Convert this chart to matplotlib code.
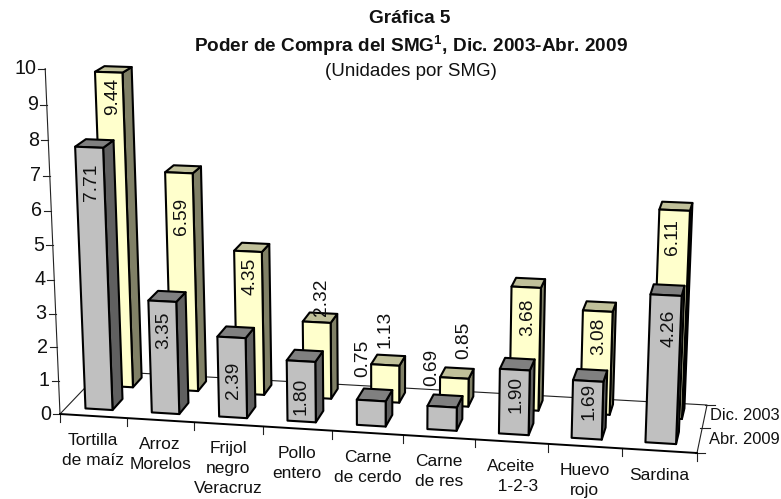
import numpy as np
from matplotlib import pyplot as plt
from matplotlib.patches import Polygon

plt.rcParams['font.family'] = ['Liberation Sans', 'DejaVu Sans']
plt.rcParams['mathtext.fontset'] = 'custom'
plt.rcParams['mathtext.bf'] = 'Liberation Sans:bold'

# Datos
categorias = ['Tortilla\nde maíz', 'Arroz\nMorelos', 'Frijol\nnegro\nVeracruz',
              'Pollo\nentero', 'Carne\nde cerdo', 'Carne\nde res',
              'Aceite\n   1-2-3', 'Huevo\nrojo', 'Sardina']
abr_2009 = [7.71, 3.35, 2.39, 1.80, 0.75, 0.69, 1.90, 1.69, 4.26]
dic_2003 = [9.44, 6.59, 4.35, 2.32, 1.13, 0.85, 3.68, 3.08, 6.11]
series = ['Abr. 2009', 'Dic. 2003']
ticks_y = list(range(11))

# Ajuste a mano de las etiquetas (dx, dy desde la cara frontal)
ajuste_abr = [(2, 35), (1, 29), (2, 43), (0, 35), (-8, -42), (-10, -39), (1, 25), (1, 20), (3, 33)]
ajuste_dic = [(4, 24), (3, 44), (2, 25), (5, -25), (0, -36), (9, -38), (2, 30), (1, 25), (-2, 27)]

# Homografia del piso: (u, d) -> pixeles
origen = [(0, 0), (9, 0), (0, 2), (9, 2)]
destino = [(60, 414), (697, 453), (101, 371), (707, 405)]
A, b = [], []
for (u, d), (x, y) in zip(origen, destino):
    A.append([u, d, 1, 0, 0, 0, -u * x, -d * x])
    A.append([0, 0, 0, u, d, 1, -u * y, -d * y])
    b += [x, y]
H = np.append(np.linalg.solve(np.array(A, float), np.array(b, float)), 1).reshape(3, 3)


def piso(u, d):
    p = H @ np.array([u, d, 1.0])
    return p[0] / p[2], p[1] / p[2]


def punto(u, d, v):
    x0, y0 = piso(u, d)
    escala = (1 + 0.00007 * (x0 - 86)) * (1 - 0.028 * d)
    h = (33 * v + 0.16 * v ** 2) * escala
    return x0 + (x0 - 387) * 0.000131 * h, y0 - h


fig = plt.figure(figsize=(7.81, 4.99), dpi=100)
ax = fig.add_axes([0, 0, 1, 1])
ax.set_xlim(0, 781)
ax.set_ylim(499, 0)
ax.axis('off')

# Lineas del piso y ejes
ax.plot(*zip(piso(0, 0), piso(0, 2), piso(9, 2), piso(9, 0)), color='#222222', lw=0.8, zorder=1)
ax.plot(*zip(punto(0, 0, 0), punto(0, 0, 10)), color='#222222', lw=0.8, zorder=1)
ax.plot(*zip(piso(0, 0), piso(9, 0)), color='black', lw=1.4, zorder=1.5)
for t in ticks_y:
    x, y = punto(0, 0, t)
    ax.plot([x - 7, x], [y, y], color='#222222', lw=0.8, zorder=1)
    ax.text(x - 9, y, str(t), ha='right', va='center', fontsize=14.2, color='#111111')

for i, etiqueta in enumerate(categorias + ['']):
    x, y = piso(i, 0)
    ax.plot([x, x], [y, y + 8], color='#222222', lw=0.8, zorder=1)
    if etiqueta:
        xc, yc = piso(i + 0.5, 0)
        ax.text(xc, yc + 17, etiqueta, ha='center', va='top', fontsize=12.5,
                linespacing=1.42, color='#111111')

for k, nombre in enumerate(series):
    x, y = piso(9, k + 0.5)
    ax.text(780, y - 1, nombre, ha='right', va='center', fontsize=11.9, color='#111111')
for k in range(3):
    x, y = piso(9, k)
    ax.plot([x - 2, x + 8], [y, y], color='#222222', lw=0.8, zorder=1)


def barra(i, d0, d1, valor, colores, z):
    u0, u1 = i + 0.29, i + 0.70
    frente = [punto(u0, d0, 0), punto(u1, d0, 0), punto(u1, d0, valor), punto(u0, d0, valor)]
    lado = [punto(u1, d0, 0), punto(u1, d1, 0), punto(u1, d1, valor), punto(u1, d0, valor)]
    tapa = [punto(u0, d0, valor), punto(u1, d0, valor), punto(u1, d1, valor), punto(u0, d1, valor)]
    for puntos, color in zip((lado, tapa, frente), colores):
        ax.add_patch(Polygon(puntos, closed=True, facecolor=color, edgecolor='black',
                             lw=1.5, joinstyle='round', zorder=z))
    return (frente[2][0] + frente[3][0]) / 2, (frente[2][1] + frente[3][1]) / 2


gris = ('#606060', '#808080', '#C0C0C0')
crema = ('#808066', '#C0C09A', '#FFFFCC')

etiquetas = []
for i, v in enumerate(dic_2003):
    etiquetas.append((barra(i, 1.34, 1.80, v, crema, 2 + i * 0.01), ajuste_dic[i], v))
for i, v in enumerate(abr_2009):
    etiquetas.append((barra(i, 0.30, 0.80, v, gris, 3 + i * 0.01), ajuste_abr[i], v))

for (x, y), (dx, dy), v in etiquetas:
    ax.text(x + dx, y + dy, '%.2f' % v, rotation=90, ha='center', va='center',
            fontsize=13.8, color='#111111', zorder=5)

# Titulos
ax.text(410, 18, 'Gráfica 5', ha='center', va='center', fontsize=13.7, fontweight='bold', color='#111111')
ax.text(411, 46, r'Poder de Compra del SMG$^{\mathbf{1}}$, Dic. 2003-Abr. 2009', ha='center', va='center',
        fontsize=13.7, fontweight='bold', color='#111111')
ax.text(411, 71, '(Unidades por SMG)', ha='center', va='center', fontsize=13.5, color='#111111')

fig.savefig('out.png', dpi=100)
